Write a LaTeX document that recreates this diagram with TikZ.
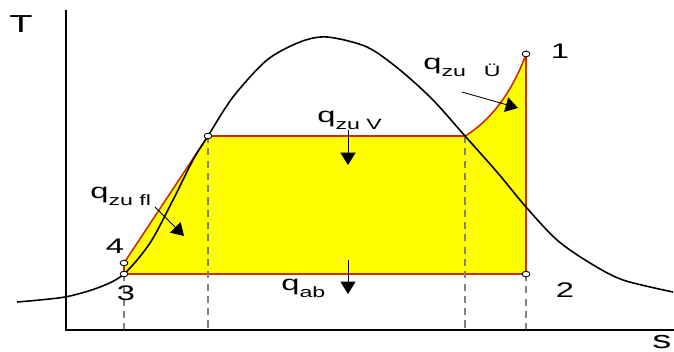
\documentclass[tikz,border=0pt]{standalone}
\usepackage{fontspec}
\setmainfont{Liberation Sans}[FakeStretch=1.55]
\usetikzlibrary{arrows.meta,shapes.geometric}
\definecolor{cycleyellow}{RGB}{255,255,0}
\definecolor{cyclered}{RGB}{205,45,0}
\newcommand{\qsub}[1]{q\raisebox{-4pt}{\fontsize{8.5}{10}\selectfont #1}}

\begin{document}
\begin{tikzpicture}[x=0.02cm,y=-0.02cm,
    axis/.style={line width=1pt},
    dome/.style={line width=0.9pt},
    area/.style={fill=cycleyellow,draw=cyclered,line width=0.9pt},
    guide/.style={gray,line width=0.6pt,dash pattern=on 4pt off 3pt},
    pt/.style={ellipse,draw,fill=white,inner sep=0pt,minimum width=4.4pt,minimum height=3.2pt,line width=0.5pt},
    lbl/.style={font=\fontsize{12}{14}\selectfont,inner sep=0pt},
    heat/.style={-{Triangle[length=7pt,width=8.5pt]},line width=0.5pt}
]
    \useasboundingbox (0,0) rectangle (674,352);

    % cycle points
    \coordinate (o) at (66,330);
    \coordinate (p1) at (526,54);
    \coordinate (p2) at (526,274);
    \coordinate (p3) at (124,274);
    \coordinate (p4) at (124,263);
    \coordinate (pa) at (208,136);
    \coordinate (pb) at (465,136);

    \fill[area] (p3) -- (p4) -- (pa) -- (pb) .. controls (495,118) and (515,85) .. (p1) -- (p2) -- cycle;

    \foreach \c in {p3,pa,pb,p2}
        \draw[guide] (\c) -- (\c |- o);

    % axes
    \draw[axis] (66,10) -- (o) -- (674,330);
    \node[lbl,font=\fontsize{14}{16}\selectfont] (tl) at (21,24) {T};
    \node[lbl,font=\fontsize{14}{16}\selectfont,anchor=base] (sl) at (662,348) {s};

    % saturation dome
    \draw[dome] plot[smooth] coordinates {(17,302) (65,297) (100,287) (124,274) (150,243) (173,200)
        (193,160) (208,136) (233,97) (267,60) (300,42) (327,37) (367,47) (400,70) (433,100)
        (465,136) (497,172) (526,207) (557,240) (590,263) (623,280) (673,292)};

    \foreach \c in {p1,p2,p3,p4,pa}
        \node[pt] at (\c) {};

    \node[lbl] (n1) at (560,51) {1};
    \node[lbl] (n2) at (565,290) {2};
    \node[lbl] (n3) at (126,293) {3};
    \node[lbl] (n4) at (115,246) {4};

    \node[lbl,anchor=base west] (qfl) at (90,198) {\qsub{zu fl}};
    \node[lbl,anchor=base west] (qv) at (317,122) {\qsub{zu V}};
    \node[lbl,anchor=base west] (qab) at (281,290) {\qsub{ab}};
    \node[lbl,anchor=base west] (qu) at (423,69) {\qsub{zu\hspace{1.2em}Ü}};

    \draw[heat] (155,207) -- (184,236);
    \draw[heat] (348,130) -- (348,165);
    \draw[heat] (348,260) -- (348,294);
    \draw[heat] (462,92) -- (518,108);
\end{tikzpicture}
\end{document}
